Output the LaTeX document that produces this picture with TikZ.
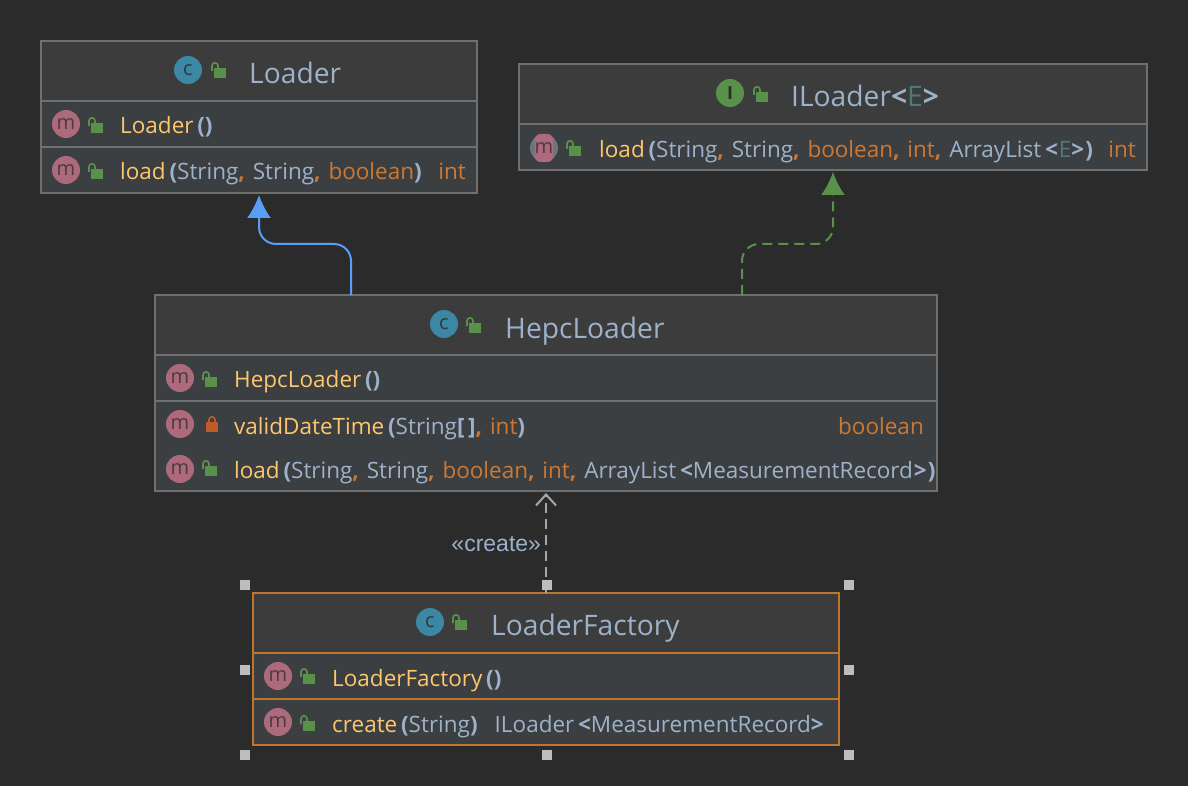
\documentclass[tikz,border=0pt]{standalone}
\usepackage{fontspec}
\setmainfont{Open Sans}
\newfontfamily\labelfont{Liberation Sans}
\usetikzlibrary{positioning, arrows.meta}

\definecolor{canvas}{HTML}{2B2B2B}
\definecolor{titlefill}{HTML}{3C3C3C}
\definecolor{rowfill}{HTML}{3C3F41}
\definecolor{edgegrey}{HTML}{6F6F6F}
\definecolor{selorange}{HTML}{C0752E}
\definecolor{plain}{HTML}{9DB2CA}
\definecolor{method}{HTML}{FFC66D}
\definecolor{keyword}{HTML}{CC7832}
\definecolor{generic}{HTML}{507874}
\definecolor{classblue}{HTML}{3B87A4}
\definecolor{methodpink}{HTML}{AD6A7C}
\definecolor{lockgreen}{HTML}{59904A}
\definecolor{lockred}{HTML}{C05A28}
\definecolor{arrowblue}{HTML}{589DF6}
\definecolor{handle}{HTML}{BDBDBD}

\newcommand{\mn}[1]{\textcolor{method}{#1}}
\newcommand{\ty}[1]{\textcolor{plain}{#1}}
\newcommand{\kw}[1]{\textcolor{keyword}{#1}}
\newcommand{\pn}[1]{\textcolor{plain}{\bfseries #1}}
\newcommand{\cm}{\textcolor{keyword}{\bfseries ,}\hspace{2pt}}

\tikzset{
  box/.style={draw=#1, line width=1.5pt, fill=rowfill, inner sep=0pt, outer sep=0pt},
  titletext/.style={anchor=base west, inner sep=0pt, font=\fontsize{28.2}{30}\selectfont, text=plain},
  member/.style={anchor=base west, inner sep=0pt, font=\fontsize{22.5}{24}\selectfont},
  result/.style={anchor=base east, inner sep=0pt, font=\fontsize{22.5}{24}\selectfont},
  classicon/.style={circle, fill=classblue, minimum size=28pt, inner sep=0pt, font=\fontsize{20}{20}\selectfont, text=canvas!85!classblue},
  ifaceicon/.style={circle, fill=lockgreen, minimum size=28pt, inner sep=0pt, font=\fontsize{18}{18}\selectfont\bfseries, text=canvas},
  methodicon/.style={circle, fill=methodpink, minimum size=28pt, inner sep=0pt, font=\fontsize{20}{20}\selectfont, text=canvas!75!methodpink},
  grip/.style={fill=handle, minimum size=10pt, inner sep=0pt},
  openlock/.pic={
    \fill[lockgreen] (3,6) rectangle (15,16);
    \draw[lockgreen, line width=1.7pt, rounded corners=3pt] (1,9) -- (1,0.8) -- (7,0.8) -- (7,6);
  },
  closedlock/.pic={
    \fill[lockred] (0,6) rectangle (12,16);
    \draw[lockred, line width=1.7pt, rounded corners=3pt] (3,6) -- (3,0.8) -- (9,0.8) -- (9,6);
  }
}

\begin{document}
\begin{tikzpicture}[x=1pt, y=-1pt]

\fill[canvas] (0,0) rectangle (1188,786);
\useasboundingbox (0,0) rectangle (1188,786);

% Loader
\node[box=edgegrey, fill=titlefill, minimum width=436pt, minimum height=60pt, anchor=north west] (loader_title) at (41,41) {};
\node[box=edgegrey, minimum width=436pt, minimum height=46pt, below=0pt of loader_title] (loader_ctor) {};
\node[box=edgegrey, minimum width=436pt, minimum height=46pt, below=0pt of loader_ctor] (loader_load) {};

\node[classicon] (loader_icon) at (188,70) {c};
\pic at (211,62) {openlock};
\node[titletext] (loader_name) at (249,84) {Loader};
\node[methodicon] (loader_ctor_icon) at (66,124) {m};
\pic at (88,117) {openlock};
\node[member] (loader_ctor_text) at (120,134) {\mn{Loader}\,\pn{()}};
\node[methodicon] (loader_load_icon) at (66,170) {m};
\pic at (88,163) {openlock};
\node[member] (loader_load_text) at (120,180) {\mn{load}\,\pn{(}\ty{String}\cm{} \ty{String}\cm{} \kw{boolean}\pn{)}};
\node[result] (loader_load_type) at (466,180) {\kw{int}};

% ILoader
\node[box=edgegrey, fill=titlefill, minimum width=628pt, minimum height=60pt, anchor=north west] (iloader_title) at (519,64) {};
\node[box=edgegrey, minimum width=628pt, minimum height=46pt, below=0pt of iloader_title] (iloader_load) {};

\node[ifaceicon] (iloader_icon) at (730,93) {I};
\pic at (753,86) {openlock};
\node[titletext] (iloader_name) at (791,107) {ILoader\pn{<}\textcolor{generic}{E}\pn{>}};
\node[methodicon, fill=plain!55!canvas] (iloader_load_back) at (544,148) {};
\node[methodicon, rectangle, rounded corners=6pt, minimum size=0pt, minimum width=16pt, minimum height=28pt] (iloader_load_icon) at (544,148) {m};
\pic at (566,140) {openlock};
\node[member] (iloader_load_text) at (599,158) {\mn{load}\,\pn{(}\ty{String}\cm{} \ty{String}\cm{} \kw{boolean}\cm{} \kw{int}\cm{} \ty{ArrayList}\,\pn{<}\hspace{1pt}\textcolor{generic}{E}\pn{>}\hspace{1pt}\pn{)}};
\node[result] (iloader_load_type) at (1136,158) {\kw{int}};

% HepcLoader
\node[box=edgegrey, fill=titlefill, minimum width=782pt, minimum height=60pt, anchor=north west] (hepc_title) at (155,295) {};
\node[box=edgegrey, minimum width=782pt, minimum height=46pt, below=0pt of hepc_title] (hepc_ctor) {};
\node[box=edgegrey, minimum width=782pt, minimum height=90pt, below=0pt of hepc_ctor] (hepc_methods) {};

\node[classicon] (hepc_icon) at (444,324) {c};
\pic at (466,317) {openlock};
\node[titletext] (hepc_name) at (505,338) {HepcLoader};
\node[methodicon] (hepc_ctor_icon) at (180,378) {m};
\pic at (202,371) {openlock};
\node[member] (hepc_ctor_text) at (234,387) {\mn{HepcLoader}\,\pn{()}};
\node[methodicon] (hepc_valid_icon) at (180,424) {m};
\pic at (206,416) {closedlock};
\node[member] (hepc_valid_text) at (234,434) {\mn{validDateTime}\,\pn{(}\ty{String}\pn{[\,]}\cm{} \kw{int}\pn{)}};
\node[result] (hepc_valid_type) at (924,434) {\kw{boolean}};
\node[methodicon] (hepc_load_icon) at (180,469) {m};
\pic at (202,460) {openlock};
\node[member] (hepc_load_text) at (234,478) {\mn{load}\,\pn{(}\ty{String}\cm{} \ty{String}\cm{} \kw{boolean}\cm{} \kw{int}\cm{} \ty{ArrayList}\,\pn{<}\ty{MeasurementRecord}\hspace{1pt}\pn{>}\hspace{1pt}\pn{)}};

% LoaderFactory
\node[box=selorange, fill=titlefill, minimum width=586pt, minimum height=60pt, anchor=north west] (factory_title) at (253,593) {};
\node[box=selorange, minimum width=586pt, minimum height=46pt, below=0pt of factory_title] (factory_ctor) {};
\node[box=selorange, minimum width=586pt, minimum height=46pt, below=0pt of factory_ctor] (factory_create) {};

\node[classicon] (factory_icon) at (430,622) {c};
\pic at (452,614) {openlock};
\node[titletext] (factory_name) at (491,635) {LoaderFactory};
\node[methodicon] (factory_ctor_icon) at (278,676) {m};
\pic at (300,668) {openlock};
\node[member] (factory_ctor_text) at (332,686) {\mn{LoaderFactory}\,\pn{()}};
\node[methodicon] (factory_create_icon) at (278,722) {m};
\pic at (300,715) {openlock};
\node[member] (factory_create_text) at (332,732) {\mn{create}\,\pn{(}\ty{String}\pn{)}};
\node[result] (factory_create_type) at (824,732) {\ty{ILoader}\,\pn{<}\ty{MeasurementRecord}\pn{>}};

% connector ends
\coordinate (hepc_left) at (hepc_title.north -| 351,0);
\coordinate (hepc_right) at (hepc_title.north -| 742,0);
\coordinate (loader_in) at (loader_load.south -| 259,0);
\coordinate (iloader_in) at (iloader_load.south -| 833,0);

\draw[arrowblue, line width=2pt, rounded corners=17pt, -{Latex[length=23pt, width=24pt]}, shorten >=2pt]
  (hepc_left) -- (351,244) -- (259,244) -- (loader_in);
\draw[lockgreen, line width=2pt, dash pattern=on 10pt off 6pt, rounded corners=17pt, -{Latex[length=23pt, width=24pt]}, shorten >=2pt]
  (hepc_right) -- (742,244) -- (833,244) -- (iloader_in);
\draw[handle!85!canvas, line width=2pt, dash pattern=on 10pt off 6pt, -{Straight Barb[length=11pt, width=20pt]}, shorten >=2pt]
  (factory_title.north) -- node[left=4pt, yshift=-2pt, text=plain, font=\labelfont\fontsize{23}{24}\selectfont, inner sep=0pt] (create_label) {«create»} (hepc_methods.south);

% selection handles
\node[grip] (grip_nw) at (245,585) {};
\node[grip] (grip_n) at (547,585) {};
\node[grip] (grip_ne) at (849,585) {};
\node[grip] (grip_w) at (245,670) {};
\node[grip] (grip_e) at (849,670) {};
\node[grip] (grip_sw) at (245,755) {};
\node[grip] (grip_s) at (547,755) {};
\node[grip] (grip_se) at (849,755) {};

\end{tikzpicture}
\end{document}
